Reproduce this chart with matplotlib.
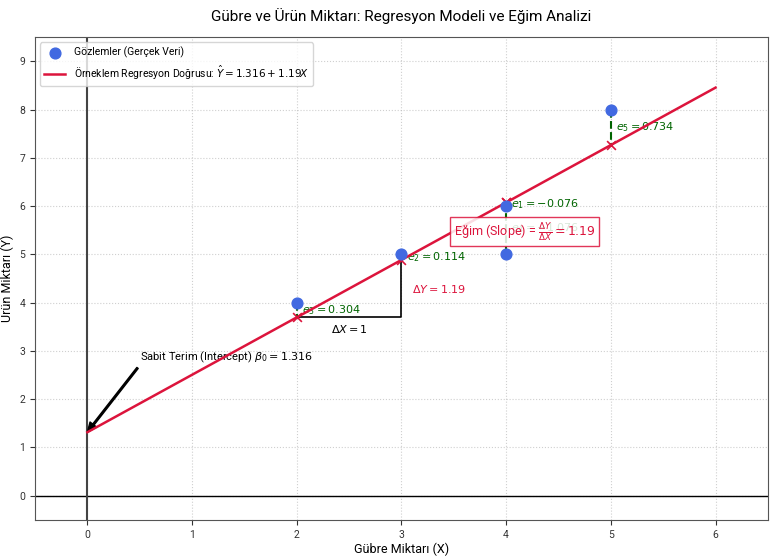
import numpy as np
from matplotlib import pyplot as plt

plt.rcParams['font.family'] = ['Roboto', 'DejaVu Sans']

# gözlemler
x_vals = [4, 3, 2, 4, 5]
y_vals = [6, 5, 4, 5, 8]
b0 = 1.316
b1 = 1.19

x_line = np.array([0, 6])
y_hat = [b0 + b1 * x for x in x_vals]
resid = [y - yh for y, yh in zip(y_vals, y_hat)]

fig, ax = plt.subplots(figsize=(7.78, 5.56), dpi=100)

ax.scatter(x_vals, y_vals, s=60, color='royalblue', zorder=5, label='Gözlemler (Gerçek Veri)')
ax.plot(x_line, b0 + b1 * x_line, color='crimson', lw=1.8, zorder=4,
        label=r'Örneklem Regresyon Doğrusu: $\hat{Y} = 1.316 + 1.19X$')
ax.scatter(x_vals, y_hat, marker='x', color='crimson', s=40, lw=1.2, zorder=4)

for i, (x, y, yh, e) in enumerate(zip(x_vals, y_vals, y_hat, resid)):
    ax.plot([x, x], [y, yh], color='darkgreen', ls='--', lw=1.5, zorder=3)
    ax.text(x + 0.05, (y + yh) / 2, rf'$e_{i+1} = {e:.3f}$', color='darkgreen',
            fontsize=8, va='center', zorder=3)

# eğim üçgeni
ax.plot([2, 3, 3], [b0 + b1 * 2, b0 + b1 * 2, b0 + b1 * 3], color='black', lw=1.2, zorder=3)
ax.text(2.5, b0 + b1 * 2 - 0.12, r'$\Delta X = 1$', ha='center', va='top', fontsize=8)
ax.text(3.1, b0 + b1 * 2.5, rf'$\Delta Y = {b1}$', color='crimson', fontsize=8, va='center')
ax.text(3.5, 5.47, r'Eğim (Slope) = $\frac{\Delta Y}{\Delta X} = 1.19$', color='crimson',
        fontsize=9, va='center', zorder=6,
        bbox=dict(boxstyle='square,pad=0.3', facecolor='white', edgecolor='crimson', alpha=0.85))

ax.annotate(r'Sabit Terim (Intercept) $\beta_0 = 1.316$', xy=(0, b0), xytext=(0.5, 2.8),
            fontsize=8, arrowprops=dict(facecolor='black', width=1.2, headwidth=6, headlength=7))

ax.axhline(0, color='black', lw=1)
ax.axvline(0, color='#444444', lw=1.5)

ax.set_xlim(-0.5, 6.5)
ax.set_ylim(-0.5, 9.5)
ax.set_xticks(range(0, 7))
ax.set_yticks(range(0, 10))
ax.tick_params(labelsize=7.5, colors='#333333')
for sp in ax.spines.values():
    sp.set_color('#555555')
ax.grid(True, ls=':', alpha=0.6)
ax.set_xlabel('Gübre Miktarı (X)', fontsize=9, labelpad=2)
ax.set_ylabel('Ürün Miktarı (Y)', fontsize=9, labelpad=4)
ax.set_title('Gübre ve Ürün Miktarı: Regresyon Modeli ve Eğim Analizi', fontsize=11, pad=12)
ax.legend(loc='upper left', fontsize=7.5)

fig.subplots_adjust(left=0.045, right=0.987, top=0.933, bottom=0.065)
fig.savefig('out.png')
